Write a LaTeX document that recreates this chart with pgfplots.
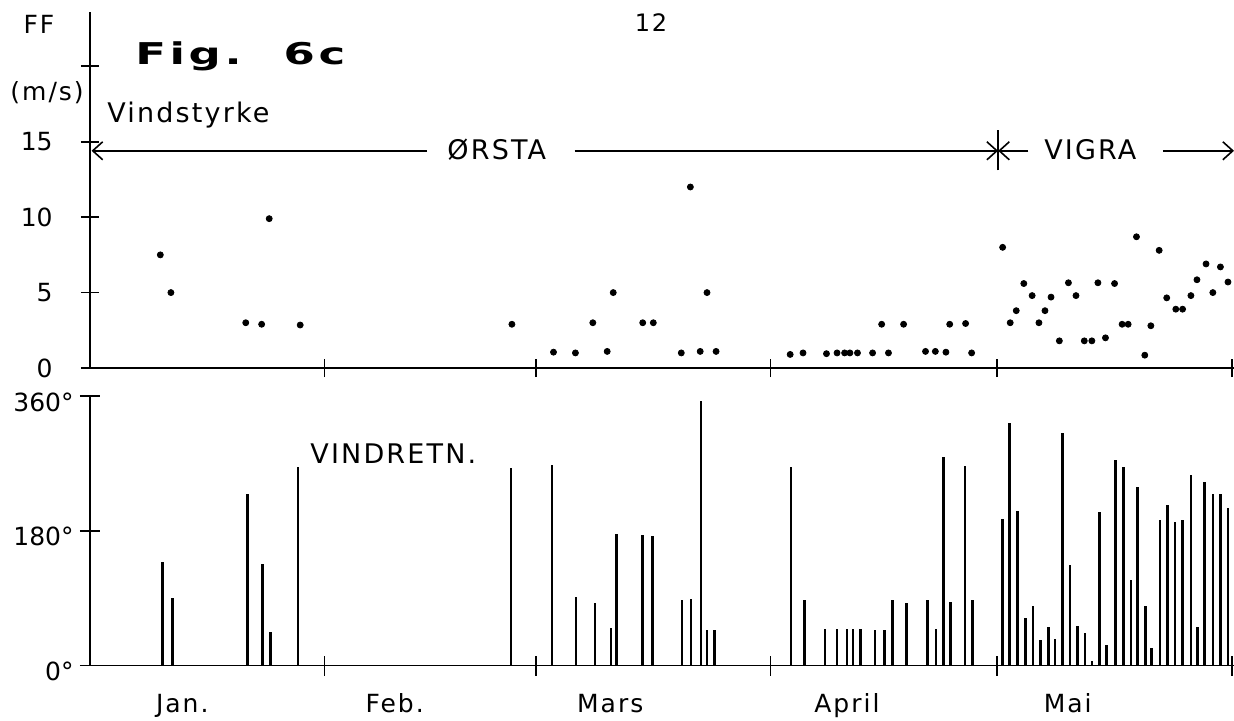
\documentclass[border=0pt]{standalone}
\usepackage{pgfplots}
\pgfplotsset{compat=1.18}
\usepackage{graphicx}
\usepackage{fontspec}
\setmainfont{DejaVu Sans}
\newfontfamily\lab{DejaVu Sans}[LetterSpace=8]
\newfontfamily\num{DejaVu Sans}
\newfontfamily\figfont{DejaVu Sans}[LetterSpace=8]
\usetikzlibrary{arrows.meta}
\pgfplotstableread{
day ff
9.3 7.5
10.7 5.0
20.6 3.0
22.7 2.9
23.7 9.9
27.8 2.85
55.8 2.9
61.3 1.05
64.2 1.0
66.5 3.0
68.4 1.1
69.2 5.0
73.1 3.0
74.5 3.0
78.2 1.0
79.4 12.0
80.7 1.1
81.6 5.0
82.8 1.1
92.6 0.9
94.3 1.0
97.4 0.95
98.8 1.0
99.8 1.0
100.5 1.0
101.5 1.0
103.5 1.0
104.7 2.9
105.6 1.0
107.6 2.9
110.5 1.1
111.8 1.1
113.2 1.05
113.7 2.9
115.8 2.95
116.6 1.0
120.7 8.0
121.7 3.0
122.5 3.8
123.5 5.6
124.6 4.8
125.5 3.0
126.3 3.8
127.1 4.7
128.2 1.8
129.4 5.65
130.4 4.8
131.5 1.8
132.5 1.8
133.3 5.65
134.3 2.0
135.5 5.6
136.5 2.9
137.3 2.9
138.4 8.7
139.5 0.85
140.3 2.8
141.4 7.8
142.4 4.65
143.6 3.9
144.5 3.9
145.6 4.8
146.4 5.85
147.6 6.9
148.5 5.0
149.5 6.7
150.5 5.7
}\speed
\pgfplotstableread{
day dd
9.6 138
10.9 90
20.8 229
22.8 136
23.9 44.5
27.5 265
55.7 264
61.1 268
64.3 92
66.8 84
68.9 50
69.6 176
73.1 174
74.4 173
78.3 88
79.5 89
80.8 354
81.6 48
82.6 47
92.7 265
94.5 88
97.2 49
98.8 49
100.1 49
100.9 49
101.9 49
103.8 47
105.1 48
106.1 88
108.0 83
110.8 88
111.9 49
112.9 278
113.8 84.5
115.7 266
116.7 87
120.7 196
121.6 324
122.7 207
123.7 63
124.7 80
125.7 34
126.8 52
127.6 36
128.6 310
129.6 134
130.6 53
131.6 44
132.5 6
133.5 205
134.4 28
135.6 274
136.7 265
137.7 114
138.5 238
139.6 80
140.4 24
141.5 194
142.5 215
143.5 192
144.5 194
145.6 255
146.5 51
147.4 245
148.5 229
149.5 229
150.5 210
}\direction
\begin{document}
\begin{tikzpicture}[x=1pt,y=1pt]
\useasboundingbox (0,0) rectangle (617,360);
% ---------- top panel: wind speed ----------
\begin{axis}[
  at={(45pt,176pt)}, anchor=south west,
  scale only axis, width=572pt, height=178pt,
  xmin=0, xmax=151.3, ymin=0, ymax=23.6,
  axis lines=left, axis line style={-, line width=0.9pt},
  xtick={31,59,90,120,151}, xticklabels={},
  ytick={0,5,10,15,20}, yticklabels={0,5,10,15,{}},
  tick align=center, major tick length=9pt,
  tick style={line width=0.9pt, black},
  yticklabel style={anchor=east, inner sep=0pt, xshift=-14pt, font=\num\fontsize{12.5}{14}\selectfont},
  clip=false,
]
\addplot[only marks, mark=*, mark size=1.5pt, black] table[x=day,y=ff]{\speed};
% station arrows
\draw[line width=0.8pt, -{Straight Barb[length=5pt,width=9pt]}] (axis cs:44.6,14.4) -- (axis cs:0.2,14.4);
\draw[line width=0.8pt, -{Straight Barb[length=5pt,width=9pt]}] (axis cs:64.1,14.4) -- (axis cs:120.1,14.4);
\draw[line width=0.8pt, -{Straight Barb[length=5pt,width=9pt]}] (axis cs:124.1,14.4) -- (axis cs:120.1,14.4);
\draw[line width=0.8pt, -{Straight Barb[length=5pt,width=9pt]}] (axis cs:141.9,14.4) -- (axis cs:151.3,14.4);
\draw[line width=0.8pt] (axis cs:120.1,13.1) -- (axis cs:120.1,15.8);
\node[font=\lab\fontsize{13.5}{15}\selectfont] at (axis cs:53.8,14.5) {ØRSTA};
\node[font=\lab\fontsize{13.5}{15}\selectfont] at (axis cs:132.3,14.5) {VIGRA};
\end{axis}
% ---------- bottom panel: wind direction ----------
\begin{axis}[
  at={(45pt,27.25pt)}, anchor=south west,
  scale only axis, width=572pt, height=134.75pt,
  xmin=0, xmax=151.3, ymin=0, ymax=360,
  axis lines=left, axis line style={-, line width=0.9pt},
  xtick={31,59,90,120,151}, xticklabels={},
  ytick={0,180,360}, yticklabels={0°,180°,360°},
  tick align=center, major tick length=10pt,
  tick style={line width=0.9pt, black},
  yticklabel style={anchor=east, inner sep=0pt, xshift=-3pt, yshift=-3pt, font=\num\fontsize{12.5}{14}\selectfont},
  clip=false,
]
\addplot[ycomb, no marks, line width=1.3pt, black] table[x=day,y=dd]{\direction};
\node[anchor=west, inner sep=0pt, font=\lab\fontsize{13.5}{15}\selectfont] at (axis cs:29.1,282.5) {VINDRETN.};
\node[anchor=base, inner sep=0pt, yshift=-23.5pt, font=\lab\fontsize{12.5}{14}\selectfont] at (axis cs:12.2,0) {Jan.};
\node[anchor=base, inner sep=0pt, yshift=-23.5pt, font=\lab\fontsize{12.5}{14}\selectfont] at (axis cs:40.3,0) {Feb.};
\node[anchor=base, inner sep=0pt, yshift=-23.5pt, font=\lab\fontsize{12.5}{14}\selectfont] at (axis cs:68.8,0) {Mars};
\node[anchor=base, inner sep=0pt, yshift=-23.5pt, font=\lab\fontsize{12.5}{14}\selectfont] at (axis cs:100.1,0) {April};
\node[anchor=base, inner sep=0pt, yshift=-23.5pt, font=\lab\fontsize{12.5}{14}\selectfont] at (axis cs:129.3,0) {Mai};
\end{axis}
% ---------- free texts ----------
\node[font=\lab\fontsize{12.5}{14}\selectfont] at (19.5,348) {FF};
\node[anchor=west, inner sep=0pt, font=\lab\fontsize{12.5}{14}\selectfont] at (5,313.5) {(m/s)};
\node[anchor=base west, inner sep=0pt, font=\lab\fontsize{13.5}{15}\selectfont] at (53.5,299) {Vindstyrke};
\node[anchor=west, inner sep=0pt] at (67.5,332) {\scalebox{1.5}[1]{\figfont\bfseries\fontsize{15}{17}\selectfont Fig.\hspace{14pt}6c}};
\node[font=\lab\fontsize{12}{14}\selectfont] at (325.5,348.5) {12};
\end{tikzpicture}
\end{document}
